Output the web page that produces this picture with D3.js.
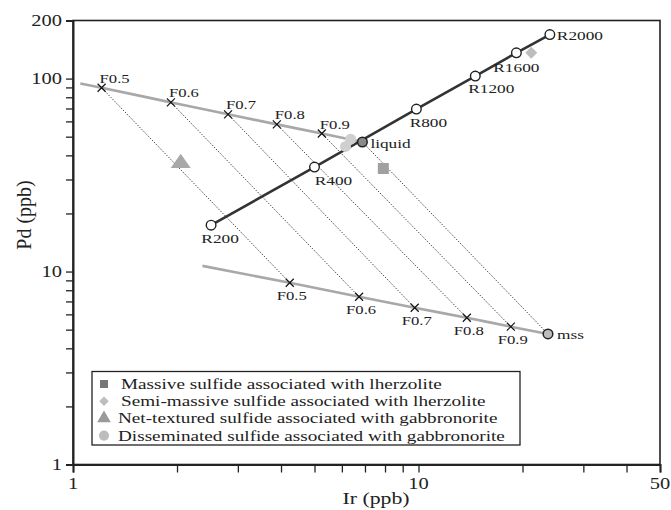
<!DOCTYPE html>
<html>
<head>
<meta charset="utf-8">
<script src="https://cdn.jsdelivr.net/npm/d3@7"></script>
<style>
  body { margin: 0; background: #fff; }
  text { font-family: "Liberation Serif", "Times New Roman", serif; fill: #222; }
</style>
</head>
<body>
<script>
// melting / crystallisation model values (Ir, Pd in ppb)
var rLabels = ["R200", "R400", "R800", "R1200", "R1600", "R2000"];
var rIr = [2.51, 5.0, 9.86, 14.6, 19.2, 24.0];
var rPd = [17.4, 34.8, 69.5, 103, 136, 169];

var liquidPt = [6.88, 46.9];
var mssPt = [23.7, 4.75];

var fLabels = ["F0.5", "F0.6", "F0.7", "F0.8", "F0.9"];
var fLiqIr = [1.21, 1.92, 2.81, 3.89, 5.25];
var fLiqPd = [89.6, 75.3, 65.3, 57.9, 51.9];
var fMssIr = [4.24, 6.73, 9.75, 13.8, 18.5];
var fMssPd = [8.75, 7.40, 6.49, 5.76, 5.18];
var liqLineStart = [1.05, 94.4];
var mssLineStart = [2.37, 10.7];

// samples
var massive = [[7.91, 34.2]];
var semiMassive = [[21.2, 136]];
var netTextured = [[2.05, 36.4]];
var disseminated = [[6.15, 44.5], [6.36, 48.5]];

var legendNames = [
  "Massive sulfide associated with lherzolite",
  "Semi-massive sulfide associated with lherzolite",
  "Net-textured sulfide associated with gabbronorite",
  "Disseminated sulfide associated with gabbronorite"
];

var xTicks = [1, 2, 3, 4, 5, 6, 7, 8, 9, 10, 20, 30, 40, 50];
var xLabelled = [1, 10, 50];
var yTicks = [1, 2, 3, 4, 5, 6, 7, 8, 9, 10, 20, 30, 40, 50, 60, 70, 80, 90, 100, 200];
var yLabelled = [1, 10, 100, 200];

(function () {
var W = 671, H = 510, SX = 1.28;
var mLeft = 73, mRight = 660, mTop = 20.5, mBottom = 464.5;

var svg = d3.select("body").append("svg").attr("width", W).attr("height", H);

var x = d3.scaleLog().domain([1, 50]).range([mLeft, mRight]);
var y = d3.scaleLog().domain([1, 200]).range([mBottom, mTop]);

function txt(px, py, str, size, anchor) {
  var g = svg.append("g").attr("transform", "translate(" + px + "," + py + ") scale(" + SX + ",1)");
  g.append("text").attr("font-size", size).attr("text-anchor", anchor || "start").text(str);
  return g;
}

// frame
svg.append("rect").attr("x", mLeft).attr("y", mTop).attr("width", mRight - mLeft).attr("height", mBottom - mTop)
  .attr("fill", "none").attr("stroke", "#222").attr("stroke-width", 1.6);

// axes
var xAxis = d3.axisBottom(x).tickValues(xTicks).tickSize(8).tickFormat(function () { return ""; });
var gx = svg.append("g").attr("transform", "translate(0," + mBottom + ")").call(xAxis);
var yAxis = d3.axisLeft(y).tickValues(yTicks).tickSize(7).tickFormat(function () { return ""; });
var gy = svg.append("g").attr("transform", "translate(" + mLeft + ",0)").call(yAxis);
[gx, gy].forEach(function (g) {
  g.select(".domain").attr("stroke", "#222").attr("stroke-width", 2);
  g.selectAll(".tick line").attr("stroke", "#222").attr("stroke-width", 1.3);
});

xLabelled.forEach(function (v) { txt(x(v), mBottom + 24, String(v), 16, "middle"); });
yLabelled.forEach(function (v) { txt(mLeft - 11, y(v) + 5, String(v), 16, "end"); });

txt(376, 504, "Ir (ppb)", 17, "middle");
svg.append("text").attr("transform", "translate(31,215) rotate(-90)")
  .attr("font-size", 20).attr("text-anchor", "middle").text("Pd (ppb)");

// curves
var line = d3.line().x(function (d) { return x(d[0]); }).y(function (d) { return y(d[1]); })
  .curve(d3.curveMonotoneX);

var liqPts = [liqLineStart].concat(fLiqIr.map(function (v, i) { return [v, fLiqPd[i]]; }), [liquidPt]);
var mssPts = [mssLineStart].concat(fMssIr.map(function (v, i) { return [v, fMssPd[i]]; }), [mssPt]);

svg.append("path").attr("d", line(liqPts)).attr("fill", "none").attr("stroke", "#a8a8a8").attr("stroke-width", 2.6);
svg.append("path").attr("d", line(mssPts)).attr("fill", "none").attr("stroke", "#a8a8a8").attr("stroke-width", 2.6);

// tie lines
var ties = fLiqIr.map(function (v, i) { return [[v, fLiqPd[i]], [fMssIr[i], fMssPd[i]]]; });
ties.push([liquidPt, mssPt]);
svg.selectAll(".tie").data(ties).enter().append("path").attr("class", "tie")
  .attr("d", d3.line().x(function (d) { return x(d[0]); }).y(function (d) { return y(d[1]); }))
  .attr("stroke", "#111").attr("stroke-width", 1).attr("stroke-dasharray", "1,1.6").attr("fill", "none");

// R line
var rPts = rIr.map(function (v, i) { return [v, rPd[i]]; });
svg.append("path").attr("d", d3.line().x(function (d) { return x(d[0]); }).y(function (d) { return y(d[1]); })(rPts))
  .attr("fill", "none").attr("stroke", "#333").attr("stroke-width", 2.6);

// samples
var sym = function (type, size) { return d3.symbol().type(type).size(size)(); };
massive.forEach(function (d) {
  svg.append("path").attr("d", sym(d3.symbolSquare, 121)).attr("fill", "#a0a0a0")
    .attr("transform", "translate(" + x(d[0]) + "," + y(d[1]) + ")");
});
semiMassive.forEach(function (d) {
  svg.append("path").attr("d", sym(d3.symbolSquare, 72)).attr("fill", "#bdbdbd")
    .attr("transform", "translate(" + x(d[0]) + "," + y(d[1]) + ") rotate(45)");
});
netTextured.forEach(function (d) {
  svg.append("path").attr("d", sym(d3.symbolTriangle, 120)).attr("fill", "#a8a8a8")
    .attr("transform", "translate(" + x(d[0]) + "," + y(d[1]) + ") scale(1.2,1)");
});
disseminated.forEach(function (d) {
  svg.append("circle").attr("cx", x(d[0])).attr("cy", y(d[1])).attr("r", 5.5).attr("fill", "#cfcfcf");
});

// crosses
function cross(px, py) {
  svg.append("path").attr("d", "M-4,-4L4,4M-4,4L4,-4").attr("transform", "translate(" + px + "," + py + ")")
    .attr("stroke", "#111").attr("stroke-width", 1.2);
}
fLiqIr.forEach(function (v, i) {
  cross(x(v), y(fLiqPd[i]));
  txt(x(v) - 2, y(fLiqPd[i]) - 5, fLabels[i], 13, "start");
});
fMssIr.forEach(function (v, i) {
  cross(x(v), y(fMssPd[i]));
  txt(x(v) + 2, y(fMssPd[i]) + 17, fLabels[i], 13, "middle");
});

// R circles
rPts.forEach(function (d) {
  svg.append("circle").attr("cx", x(d[0])).attr("cy", y(d[1])).attr("r", 4.8)
    .attr("fill", "#fff").attr("stroke", "#222").attr("stroke-width", 1.4);
});
var rOff = [[9, 18], [19, 18], [12, 18], [16, 17], [0, 19], [7, 5]];
rPts.forEach(function (d, i) {
  var anchor = i === 5 ? "start" : "middle";
  txt(x(d[0]) + rOff[i][0], y(d[1]) + rOff[i][1], rLabels[i], 13.5, anchor);
});

// liquid & mss
svg.append("circle").attr("cx", x(liquidPt[0])).attr("cy", y(liquidPt[1])).attr("r", 4.8)
  .attr("fill", "#8a8a8a").attr("stroke", "#222").attr("stroke-width", 1.5);
txt(x(liquidPt[0]) + 8, y(liquidPt[1]) + 6, "liquid", 13.5, "start");
svg.append("circle").attr("cx", x(mssPt[0])).attr("cy", y(mssPt[1])).attr("r", 4.8)
  .attr("fill", "#bdbdbd").attr("stroke", "#222").attr("stroke-width", 1.5);
txt(x(mssPt[0]) + 9, y(mssPt[1]) + 5, "mss", 13.5, "start");

// legend
var lg = svg.append("g");
lg.append("rect").attr("x", 92).attr("y", 371.5).attr("width", 428).attr("height", 73.5)
  .attr("fill", "#fff").attr("stroke", "#222").attr("stroke-width", 1.3);
var legSyms = [
  { t: d3.symbolSquare, s: 64, c: "#777", r: 0 },
  { t: d3.symbolSquare, s: 45, c: "#bdbdbd", r: 45 },
  { t: d3.symbolTriangle, s: 80, c: "#9a9a9a", r: 0 },
  { t: d3.symbolCircle, s: 80, c: "#bdbdbd", r: 0 }
];
legendNames.forEach(function (n, i) {
  var ly = 384 + i * 17.2;
  var s = legSyms[i];
  lg.append("path").attr("d", sym(s.t, s.s)).attr("fill", s.c)
    .attr("transform", "translate(104," + ly + ") rotate(" + s.r + ")");
  txt(i < 2 ? 121 : 118, ly + 5, n, 15, "start");
});
})();
</script>
</body>
</html>
